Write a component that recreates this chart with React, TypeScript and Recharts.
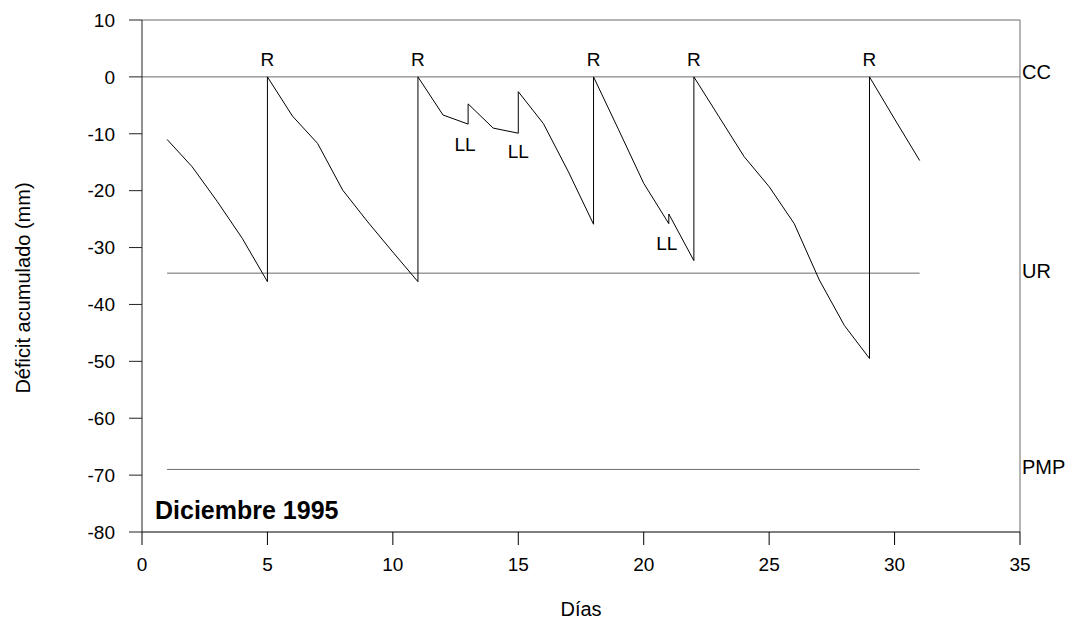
import { Label, Line, LineChart, ReferenceDot, ReferenceLine, XAxis, YAxis } from 'recharts';

// accumulated soil water deficit, December 1995 (vertical drops = irrigation back to CC)
const days = [1, 2, 3, 4, 5, 5, 6, 7, 8, 9, 10, 11, 11, 12, 13, 13, 14, 15, 15, 16, 17, 18, 18, 19, 20, 21, 21, 22, 22, 23, 24, 25, 26, 27, 28, 29, 29, 30, 31];
const deficit = [
  -11, -15.8, -21.9, -28.4, -36, 0, -6.9, -11.7, -19.9, -25.5, -30.8, -36, 0, -6.7, -8.3, -4.75, -9, -9.9, -2.6, -8.2,
  -16.7, -25.9, 0, -9.3, -18.7, -25.8, -24.1, -32.3, 0, -7, -14, -19.3, -25.8, -35.7, -43.7, -49.5, 0, -7.4, -14.7
];

const irrigationDays = [5, 11, 18, 22, 29];
const rainDays = [13, 15, 21];
const rainLow = [-8.3, -9.9, -25.8];

const CC = 0;
const UR = -34.5;
const PMP = -69;
const thresholdSpan = [1, 31];

const xTicks = [0, 5, 10, 15, 20, 25, 30, 35];
const yTicks = [-80, -70, -60, -50, -40, -30, -20, -10, 0, 10];

const rows = days.map((day, i) => ({ day, deficit: deficit[i] }));

const FONT = '"Liberation Sans", Arial, sans-serif';
const GRID = '#6b6b6b';

type VB = { x?: number; y?: number; width?: number; height?: number };

function SideLabel({ viewBox, text, shift = 0 }: { viewBox?: VB; text: string; shift?: number }) {
  const vb = viewBox ?? {};
  const x = (vb.x ?? 0) + (vb.width ?? 0) + 2;
  const y = (vb.y ?? 0) + shift;
  return (
    <text x={x} y={y} fontSize={20} fill="#000" dominantBaseline="central" fontFamily={FONT}>
      {text}
    </text>
  );
}

function YTitle({ viewBox }: { viewBox?: VB }) {
  const vb = viewBox ?? {};
  const x = (vb.x ?? 0) + 23;
  const y = (vb.y ?? 0) + (vb.height ?? 0) / 2 + 12;
  return (
    <text x={x} y={y} transform={`rotate(-90 ${x} ${y})`} textAnchor="middle" dominantBaseline="central" fontSize={20} fill="#000" fontFamily={FONT}>
      Déficit acumulado (mm)
    </text>
  );
}

export default function App() {
  return (
    <div style={{ position: 'absolute', left: 0, top: 0, fontFamily: FONT, background: '#fff' }}>
      <LineChart width={1073} height={619} data={rows} margin={{ top: 20, right: 53, bottom: 0, left: 0 }}>
        <XAxis
          type="number"
          dataKey="day"
          domain={[0, 35]}
          ticks={xTicks}
          interval={0}
          height={87}
          tickSize={13}
          tickMargin={13}
          stroke="#000"
          tick={{ fontSize: 19, fill: '#000' }}
        >
          <Label value="Días" position="insideBottom" offset={3} fontSize={20} fill="#000" />
        </XAxis>
        <YAxis
          type="number"
          domain={[-80, 10]}
          ticks={yTicks}
          interval={0}
          width={142}
          tickSize={13}
          tickMargin={14}
          stroke="#222"
          tick={{ fontSize: 19, fill: '#000' }}
          label={(props: any) => <YTitle viewBox={props.viewBox} />}
        />

        {/* box: top and right borders */}
        <ReferenceLine y={10} stroke={GRID} strokeWidth={1} />
        <ReferenceLine x={35} stroke={GRID} strokeWidth={1} />

        <ReferenceLine
          y={CC}
          stroke={GRID}
          strokeWidth={1}
          label={(props: any) => <SideLabel viewBox={props.viewBox} text="CC" shift={-5} />}
        />
        <ReferenceLine segment={[{ x: thresholdSpan[0], y: UR }, { x: thresholdSpan[1], y: UR }]} stroke={GRID} strokeWidth={1} />
        <ReferenceLine
          y={UR}
          stroke="none"
          label={(props: any) => <SideLabel viewBox={props.viewBox} text="UR" shift={-2} />}
        />
        <ReferenceLine segment={[{ x: thresholdSpan[0], y: PMP }, { x: thresholdSpan[1], y: PMP }]} stroke={GRID} strokeWidth={1} />
        <ReferenceLine
          y={PMP}
          stroke="none"
          label={(props: any) => <SideLabel viewBox={props.viewBox} text="PMP" shift={-2} />}
        />
        <ReferenceLine
          y={-80}
          stroke="none"
          label={{ value: 'Diciembre 1995', position: 'insideBottomLeft', offset: 13, fontSize: 25, fontWeight: 'bold', fill: '#000' }}
        />

        <Line
          type="linear"
          dataKey="deficit"
          stroke="#000"
          strokeWidth={1}
          dot={false}
          activeDot={false}
          isAnimationActive={false}
        />

        {irrigationDays.map((d) => (
          <ReferenceDot
            key={`r-${d}`}
            x={d}
            y={CC}
            r={0}
            fill="none"
            stroke="none"
            label={{ value: 'R', position: 'top', offset: 11, fontSize: 19, fill: '#000' }}
          />
        ))}
        {rainDays.map((d, i) => (
          <ReferenceDot
            key={`ll-${d}`}
            x={d}
            y={rainLow[i]}
            r={0}
            fill="none"
            stroke="none"
            label={{ value: 'LL', position: 'bottom', offset: i === 1 ? 11 : 13, dx: i === 0 ? -3 : i === 2 ? -2 : 0, fontSize: 19, fill: '#000' }}
          />
        ))}
      </LineChart>
    </div>
  );
}
